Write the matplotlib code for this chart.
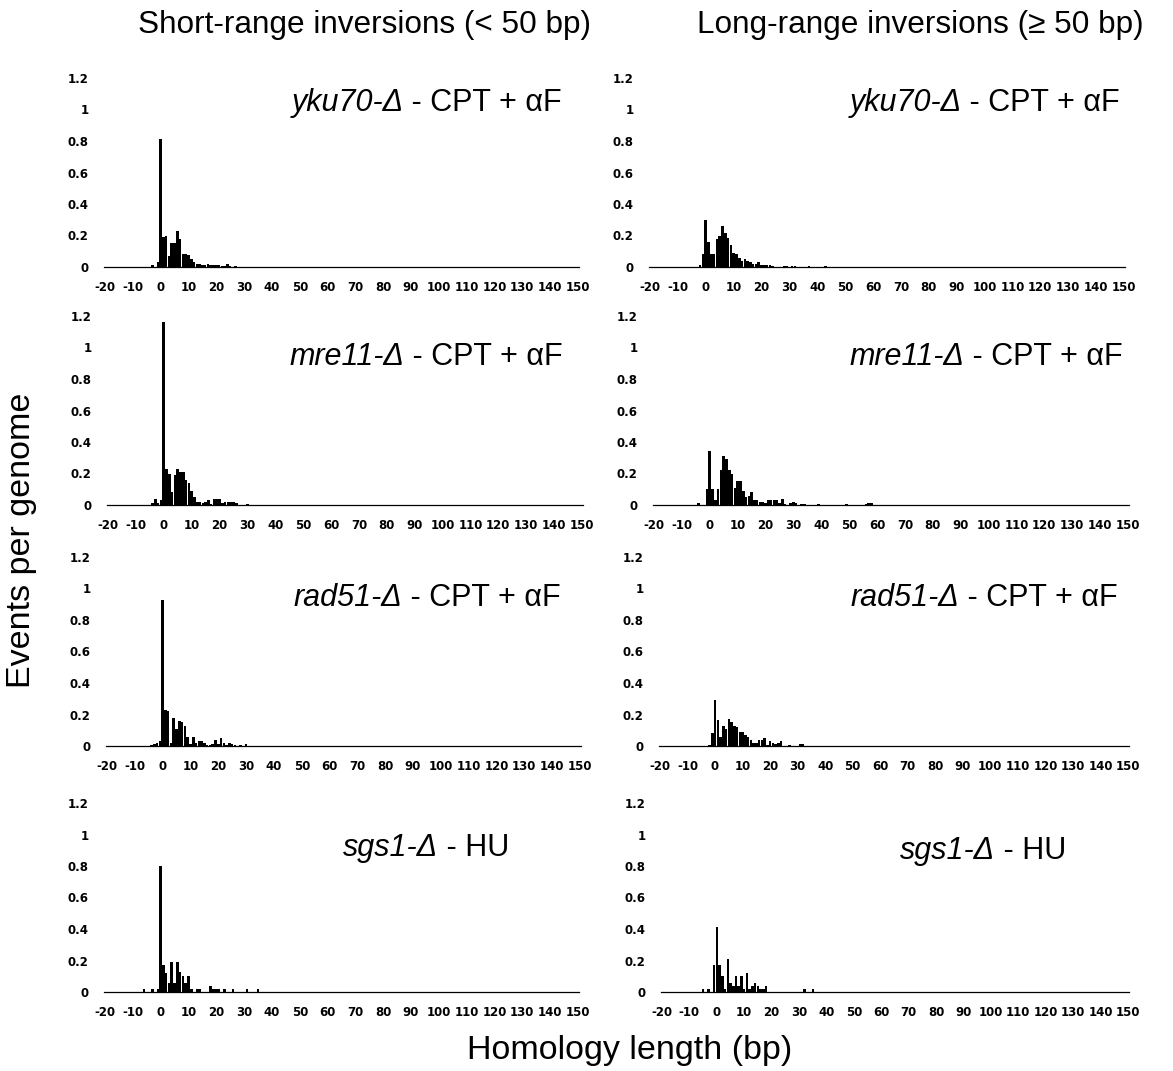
import numpy as np
import matplotlib
matplotlib.use("Agg")
import matplotlib.pyplot as plt

plt.rcParams['axes.unicode_minus'] = False

# Заголовки и подписи
col_titles = ["Short-range inversions (< 50 bp)", "Long-range inversions (≥ 50 bp)"]
strain_names = ["yku70-Δ", "mre11-Δ", "rad51-Δ", "sgs1-Δ"]
treatments = [" - CPT + αF", " - CPT + αF", " - CPT + αF", " - HU"]
x_ticks = list(range(-20, 151, 10))
y_ticks = [0, 0.2, 0.4, 0.6, 0.8, 1, 1.2]
y_tick_labels = ["0", "0.2", "0.4", "0.6", "0.8", "1", "1.2"]

# yku70 - короткие инверсии
yku70_short_len = [-3, -1, 0, 1, 2, 3, 4, 5, 6, 7, 8, 9, 10, 11, 12, 13, 14, 15, 16,
                   17, 18, 19, 20, 21, 22, 23, 24, 25, 27]
yku70_short_val = [0.015, 0.03, 0.81, 0.19, 0.2, 0.07, 0.155, 0.155, 0.23, 0.175, 0.085,
                   0.08, 0.075, 0.05, 0.03, 0.02, 0.02, 0.015, 0.01, 0.02, 0.01, 0.015,
                   0.01, 0.012, 0.005, 0.005, 0.018, 0.008, 0.006]
# yku70 - длинные инверсии
yku70_long_len = [-2, -1, 0, 1, 2, 3, 4, 5, 6, 7, 8, 9, 10, 11, 12, 13, 14, 15, 16, 17,
                  18, 19, 20, 21, 22, 23, 24, 28, 29, 31, 32, 37, 43]
yku70_long_val = [0.01, 0.08, 0.30, 0.16, 0.085, 0.08, 0.175, 0.2, 0.26, 0.215, 0.185,
                  0.14, 0.09, 0.08, 0.06, 0.04, 0.05, 0.035, 0.03, 0.02, 0.02, 0.03,
                  0.01, 0.01, 0.01, 0.01, 0.005, 0.005, 0.005, 0.005, 0.005, 0.005, 0.005]

# mre11 - короткие инверсии
mre11_short_len = [-4, -3, -2, -1, 0, 1, 2, 3, 4, 5, 6, 7, 8, 9, 10, 11, 12, 13, 14, 15,
                   16, 17, 18, 19, 20, 21, 22, 23, 24, 25, 26, 30]
mre11_short_val = [0.01, 0.04, 0.01, 0.03, 1.16, 0.23, 0.2, 0.08, 0.19, 0.23, 0.21, 0.21,
                   0.16, 0.14, 0.09, 0.05, 0.02, 0.02, 0.01, 0.02, 0.03, 0.005, 0.04,
                   0.035, 0.04, 0.01, 0.02, 0.02, 0.02, 0.02, 0.015, 0.005]
# mre11 - длинные инверсии
mre11_long_len = [-4, -1, 0, 1, 2, 3, 4, 5, 6, 7, 8, 9, 10, 11, 12, 13, 14, 15, 16, 17,
                  18, 19, 20, 21, 22, 23, 24, 25, 26, 27, 29, 30, 31, 33, 34, 39, 49,
                  56, 57, 58]
mre11_long_val = [0.01, 0.1, 0.34, 0.1, 0.03, 0.1, 0.22, 0.31, 0.29, 0.22, 0.2, 0.11,
                  0.15, 0.15, 0.09, 0.05, 0.06, 0.08, 0.03, 0.03, 0.02, 0.02, 0.01,
                  0.03, 0.03, 0.03, 0.03, 0.01, 0.04, 0.005, 0.01, 0.02, 0.01, 0.005,
                  0.005, 0.005, 0.005, 0.005, 0.01, 0.01]

# rad51 - короткие инверсии
rad51_short_len = [-4, -3, -2, -1, 0, 1, 2, 3, 4, 5, 6, 7, 8, 9, 10, 11, 12, 13, 14, 15,
                   16, 17, 18, 19, 20, 21, 22, 23, 24, 25, 26, 28, 30]
rad51_short_val = [0.005, 0.01, 0.02, 0.03, 0.93, 0.23, 0.22, 0.02, 0.18, 0.11, 0.16,
                   0.15, 0.13, 0.06, 0.01, 0.06, 0.02, 0.03, 0.03, 0.02, 0.005, 0.005,
                   0.01, 0.04, 0.01, 0.05, 0.02, 0.005, 0.02, 0.01, 0.005, 0.005, 0.01]
# rad51 - длинные инверсии
rad51_long_len = [-2, -1, 0, 1, 2, 3, 4, 5, 6, 7, 8, 9, 10, 11, 12, 13, 14, 15, 16, 17,
                  18, 19, 20, 21, 22, 23, 24, 27, 31, 32]
rad51_long_val = [0.005, 0.08, 0.29, 0.165, 0.06, 0.13, 0.11, 0.17, 0.15, 0.13, 0.12,
                  0.09, 0.09, 0.07, 0.06, 0.04, 0.02, 0.02, 0.04, 0.04, 0.05, 0.005,
                  0.03, 0.02, 0.01, 0.02, 0.03, 0.005, 0.01, 0.01]

# sgs1 - короткие инверсии
sgs1_short_len = [-6, -3, -1, 0, 1, 2, 3, 4, 5, 6, 7, 8, 9, 10, 11, 13, 14, 18, 19, 20,
                  21, 23, 26, 31, 35]
sgs1_short_val = [0.02, 0.02, 0.02, 0.8, 0.17, 0.12, 0.06, 0.19, 0.06, 0.19, 0.13, 0.1,
                  0.06, 0.1, 0.02, 0.02, 0.02, 0.04, 0.02, 0.02, 0.02, 0.02, 0.02, 0.02,
                  0.02]
# sgs1 - длинные инверсии
sgs1_long_len = [-5, -3, -1, 0, 1, 2, 3, 4, 5, 6, 7, 8, 9, 10, 11, 12, 13, 14, 15, 16,
                 17, 18, 32, 35]
sgs1_long_val = [0.02, 0.02, 0.17, 0.41, 0.17, 0.1, 0.02, 0.21, 0.06, 0.04, 0.1, 0.04,
                 0.1, 0.02, 0.12, 0.02, 0.04, 0.06, 0.04, 0.02, 0.02, 0.04, 0.02, 0.02]

panels = [
    [(yku70_short_len, yku70_short_val), (yku70_long_len, yku70_long_val)],
    [(mre11_short_len, mre11_short_val), (mre11_long_len, mre11_long_val)],
    [(rad51_short_len, rad51_short_val), (rad51_long_len, rad51_long_val)],
    [(sgs1_short_len, sgs1_short_val), (sgs1_long_len, sgs1_long_val)],
]

W, H = 1173, 1071
fig = plt.figure(figsize=(W / 100, H / 100), dpi=100)

# Положение графиков в пикселях: центр метки -20, центр метки 150, уровень 0
x_pos = [[(105, 578), (650, 1124)],
         [(108, 582), (654, 1128)],
         [(107, 580), (660, 1128)],
         [(105, 578), (662, 1128)]]
zero_y = [267, 505, 746, 992]
y_span = 189  # пикселей от 0 до 1.2

# Где стоят подписи штаммов (правый край, центр по вертикали)
label_pos = [[(562, 103), (1120, 103)],
             [(563, 357), (1123, 357)],
             [(561, 598), (1118, 598)],
             [(509, 848), (1066, 851)]]

sans = ['Liberation Sans', 'DejaVu Sans']

for r in range(4):
    for c in range(2):
        xa, xb = x_pos[r][c]
        ppu = (xb - xa) / 170.0
        left = xa - 0.5 * ppu
        width = 171 * ppu
        ax = fig.add_axes([left / W, 1 - zero_y[r] / H, width / W, y_span / H])

        lens, vals = panels[r][c]
        ax.bar(lens, vals, width=0.92, color='black', linewidth=0)

        ax.set_xlim(-20.5, 150.5)
        ax.set_ylim(0, 1.2)
        ax.set_xticks(x_ticks)
        ax.set_xticklabels([str(t) for t in x_ticks], fontsize=8.5, fontweight='bold')
        ax.set_yticks(y_ticks)
        ax.set_yticklabels(y_tick_labels, fontsize=8.5, fontweight='bold')
        ax.tick_params(axis='x', length=0, pad=10)
        ax.tick_params(axis='y', length=0, pad=11)
        for s in ['left', 'top', 'right']:
            ax.spines[s].set_visible(False)
        ax.spines['bottom'].set_linewidth(0.9)
        ax.patch.set_alpha(0)

        # Подпись штамма: курсивная часть + обычная
        lx, ly = label_pos[r][c]
        t1 = ax.annotate(treatments[r], xy=(lx, H - ly), xycoords='figure pixels',
                         ha='right', va='center', fontsize=22, family=sans,
                         annotation_clip=False)
        ax.annotate(strain_names[r], xy=(0, 0), xycoords=t1, ha='right', va='bottom',
                    fontsize=22, family=sans, style='italic', annotation_clip=False)

# Заголовки колонок
fig.text(365 / W, 1 - 25 / H, col_titles[0], ha='center', va='center', fontsize=22.7, family=sans)
fig.text(920 / W, 1 - 25 / H, col_titles[1], ha='center', va='center', fontsize=22.7, family=sans)

# Подписи осей
fig.text(22 / W, 1 - 540 / H, "Events per genome", rotation=90, ha='center', va='center',
         fontsize=24.5, family=sans)
fig.text(630 / W, 1 - 1050 / H, "Homology length (bp)", ha='center', va='center',
         fontsize=24.5, family=sans)

fig.savefig("out.png", dpi=100)
